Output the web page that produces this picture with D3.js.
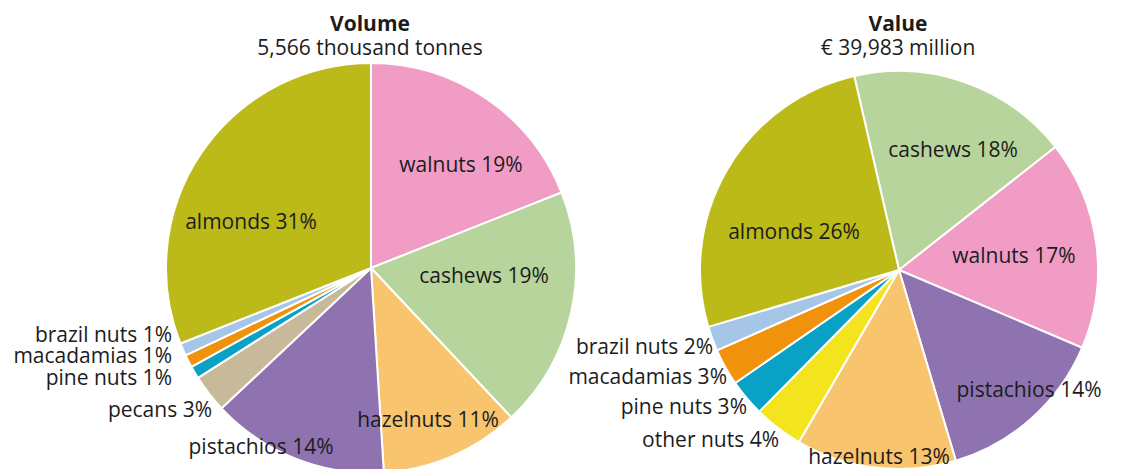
<!DOCTYPE html>
<html>
<head>
<meta charset="utf-8">
<script src="https://cdn.jsdelivr.net/npm/d3@7/dist/d3.min.js"></script>
<style>
  html, body { margin: 0; padding: 0; background: #ffffff; }
  svg { display: block; }
  text { font-family: "Open Sans", "Noto Sans", sans-serif; fill: #1c1c1c; }
</style>
</head>
<body>
<svg id="chart" width="1126" height="469"></svg>
<script>
// Nut production: share of volume and share of value (%)
const volumeNuts   = ["walnuts", "cashews", "hazelnuts", "pistachios", "pecans", "pine nuts", "macadamias", "brazil nuts", "almonds"];
const volumeShares = [19, 19, 11, 14, 3, 1, 1, 1, 31];

const valueNuts    = ["cashews", "walnuts", "pistachios", "hazelnuts", "other nuts", "pine nuts", "macadamias", "brazil nuts", "almonds"];
const valueShares  = [18, 17, 14, 13, 4, 3, 3, 2, 26];

const chartTitles    = ["Volume", "Value"];
const chartSubtitles = ["5,566 thousand tonnes", "€ 39,983 million"];

const nutColors = {
  "almonds":    "#bcba18",
  "walnuts":    "#f09cc4",
  "cashews":    "#b6d49b",
  "hazelnuts":  "#f8c56e",
  "pistachios": "#8f73b0",
  "pecans":     "#c9b99b",
  "pine nuts":  "#0aa1c6",
  "macadamias": "#f0920c",
  "brazil nuts":"#a6c6e8",
  "other nuts": "#f4e41e"
};

const svg = d3.select("#chart");

// Layout for each pie: centre, radius, rotation of first slice, label anchors
const pies = [
  {
    names: volumeNuts, values: volumeShares,
    cx: 371, cy: 268, r: 205, start: 0,
    labels: {
      "walnuts":    { x: 90,  y: -96, anchor: "middle" },
      "almonds":    { x: -120, y: -39, anchor: "middle" },
      "cashews":    { x: 113, y: 15,  anchor: "middle" },
      "hazelnuts":  { x: 57,  y: 159, anchor: "middle" },
      "pistachios": { x: -110, y: 186, anchor: "middle" },
      "pecans":     { x: -159, y: 149, anchor: "end" },
      "pine nuts":  { x: -199, y: 117, anchor: "end" },
      "macadamias": { x: -199, y: 95,  anchor: "end" },
      "brazil nuts":{ x: -199, y: 74,  anchor: "end" }
    }
  },
  {
    names: valueNuts, values: valueShares,
    cx: 899, cy: 270, r: 199, start: -13 * Math.PI / 180,
    labels: {
      "cashews":    { x: 54,  y: -113, anchor: "middle" },
      "almonds":    { x: -105, y: -31, anchor: "middle" },
      "walnuts":    { x: 115, y: -7,  anchor: "middle" },
      "pistachios": { x: 130, y: 127, anchor: "middle" },
      "hazelnuts":  { x: -20, y: 194, anchor: "middle" },
      "brazil nuts":{ x: -186, y: 84, anchor: "end" },
      "macadamias": { x: -172, y: 114, anchor: "end" },
      "pine nuts":  { x: -152, y: 144, anchor: "end" },
      "other nuts": { x: -120, y: 177, anchor: "end" }
    }
  }
];

pies.forEach((p, i) => {
  const rows = p.names.map((n, k) => ({ name: n, value: p.values[k] }));
  const pie = d3.pie()
    .value(d => d.value)
    .sort(null)
    .startAngle(p.start)
    .endAngle(p.start + 2 * Math.PI);
  const arc = d3.arc().innerRadius(0).outerRadius(p.r);

  const g = svg.append("g").attr("transform", `translate(${p.cx},${p.cy})`);

  g.selectAll("path.slice")
    .data(pie(rows))
    .join("path")
    .attr("class", "slice")
    .attr("d", arc)
    .attr("fill", d => nutColors[d.data.name])
    .attr("stroke", "#ffffff")
    .attr("stroke-width", 2)
    .attr("stroke-linejoin", "round");

  g.selectAll("text.label")
    .data(rows)
    .join("text")
    .attr("class", "label")
    .attr("x", d => p.labels[d.name].x)
    .attr("y", d => p.labels[d.name].y)
    .attr("text-anchor", d => p.labels[d.name].anchor)
    .attr("font-size", 21)
    .text(d => `${d.name} ${d.value}%`);

  // Title block above each pie
  svg.append("text")
    .attr("x", p.cx - 1)
    .attr("y", 31)
    .attr("text-anchor", "middle")
    .attr("font-size", 21)
    .attr("font-weight", "bold")
    .text(chartTitles[i]);
  svg.append("text")
    .attr("x", p.cx - 1)
    .attr("y", 55)
    .attr("text-anchor", "middle")
    .attr("font-size", 21)
    .text(chartSubtitles[i]);
});
</script>
</body>
</html>
